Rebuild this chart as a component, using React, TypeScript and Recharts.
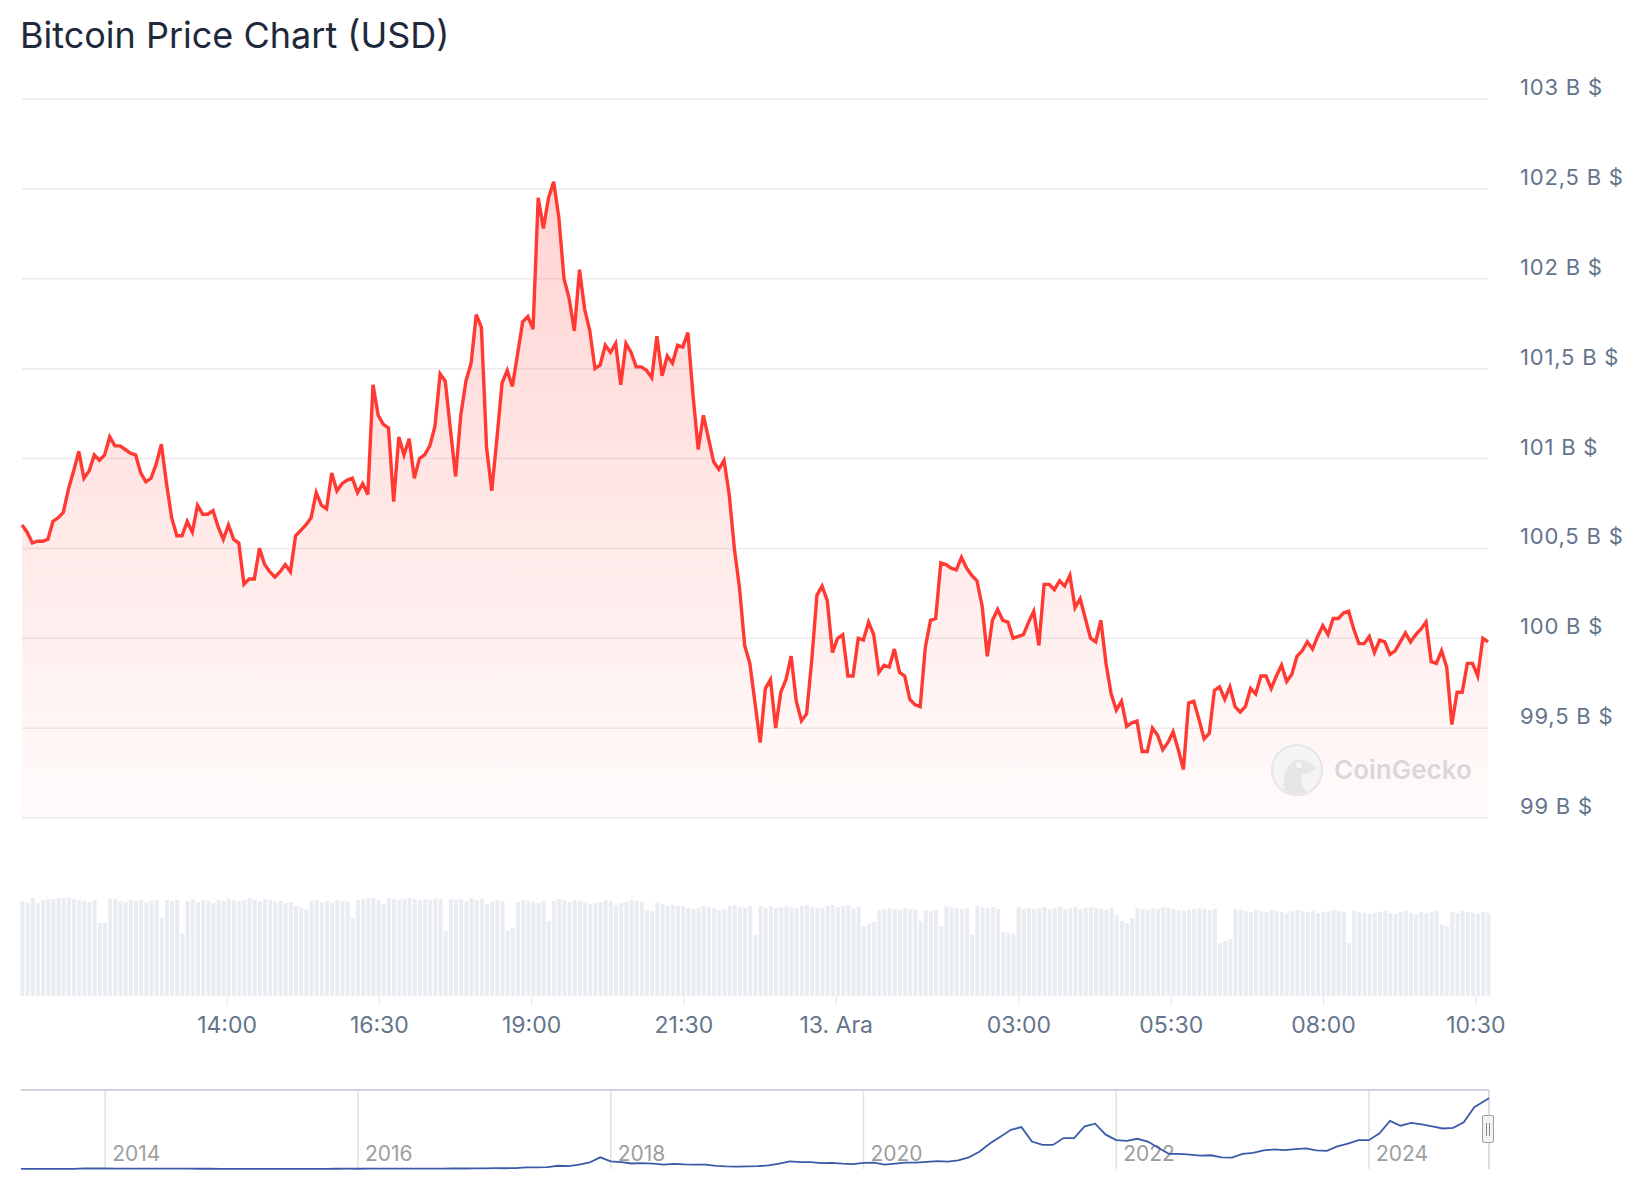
import React from 'react';
import {
  ComposedChart,
  Area,
  XAxis,
  YAxis,
  CartesianGrid,
  BarChart,
  Bar,
  LineChart,
  Line,
  ReferenceLine,
} from 'recharts';

const FONT = 'Inter, "Noto Sans", "DejaVu Sans", sans-serif';

// Time axis: minutes from 00:00 on 12 Dec; ~24 hours of data
const START_MIN = 638;
const SPAN_MIN = 1444;

// Bitcoin price, thousands of USD
const priceValues: number[] = [
  100.63, 100.59, 100.53, 100.54, 100.54, 100.55, 100.65, 100.67, 100.70, 100.83,
  100.93, 101.04, 100.89, 100.93, 101.02, 100.99, 101.02, 101.12, 101.07, 101.07,
  101.05, 101.03, 101.02, 100.92, 100.87, 100.89, 100.97, 101.08, 100.86, 100.67,
  100.57, 100.57, 100.65, 100.59, 100.74, 100.69, 100.69, 100.71, 100.62, 100.55,
  100.63, 100.55, 100.53, 100.30, 100.33, 100.33, 100.50, 100.41, 100.37, 100.34,
  100.37, 100.41, 100.37, 100.57, 100.60, 100.63, 100.67, 100.81, 100.74, 100.72,
  100.92, 100.82, 100.86, 100.88, 100.89, 100.81, 100.86, 100.80, 101.41, 101.24,
  101.19, 101.17, 100.76,
  101.12, 101.02, 101.11, 100.89, 101.00, 101.02, 101.07, 101.18, 101.47, 101.43,
  101.16, 100.90, 101.24, 101.43, 101.53, 101.80, 101.73, 101.06, 100.82, 101.11,
  101.42, 101.49, 101.40, 101.58, 101.76, 101.79, 101.72, 102.45, 102.28, 102.45,
  102.54, 102.34, 102.00, 101.89, 101.71, 102.05, 101.83, 101.71, 101.50, 101.52,
  101.63, 101.59, 101.64, 101.41, 101.64, 101.59, 101.51, 101.51, 101.49, 101.45,
  101.68, 101.46, 101.57, 101.53, 101.63, 101.62, 101.70, 101.35, 101.05, 101.24,
  101.11, 100.98, 100.94, 100.99, 100.80, 100.50, 100.28, 99.96, 99.86, 99.64,
  99.42, 99.72,
  99.77, 99.50, 99.70, 99.77, 99.90, 99.65, 99.54, 99.58, 99.88, 100.24,
  100.29, 100.21, 99.92, 100.00, 100.02, 99.79, 99.79, 100.00, 99.99, 100.09,
  100.02, 99.81, 99.85, 99.84, 99.94, 99.81, 99.79, 99.66, 99.63, 99.62,
  99.95, 100.10, 100.11, 100.42, 100.41, 100.39, 100.38, 100.45, 100.39, 100.35,
  100.32, 100.18, 99.90, 100.10, 100.16, 100.10, 100.09, 100.00, 100.01, 100.02,
  100.09, 100.15, 99.96, 100.30, 100.30, 100.27, 100.32, 100.29, 100.35, 100.17,
  100.22, 100.11, 100.00, 99.98, 100.10, 99.86, 99.69, 99.60, 99.65, 99.51,
  99.53, 99.54,
  99.37, 99.37, 99.50, 99.46, 99.38, 99.42, 99.48, 99.38, 99.27, 99.64,
  99.65, 99.55, 99.44, 99.47, 99.71, 99.73, 99.66, 99.73, 99.62, 99.59,
  99.62, 99.72, 99.69, 99.79, 99.79, 99.72, 99.79, 99.85, 99.76, 99.80,
  99.90, 99.93, 99.98, 99.94, 100.01, 100.07, 100.02, 100.11, 100.11, 100.14,
  100.15, 100.05, 99.97, 99.97, 100.01, 99.92, 99.99, 99.98, 99.91, 99.93,
  99.98, 100.03, 99.98, 100.02, 100.05, 100.09, 99.87, 99.86, 99.93, 99.84,
  99.52, 99.70, 99.70, 99.86, 99.86, 99.79, 100.00, 99.98,
];

// Trading volume (relative bar heights)
const volumeValues: number[] = [
  95, 93, 98, 93, 96, 97, 97, 98, 98, 98, 97, 96, 95, 94, 96,
  73, 73,
  97, 97, 95, 94, 96, 95, 96, 94, 95, 96,
  78,
  96, 95, 96,
  62,
  95, 97, 94, 96, 95, 93, 96, 95, 97, 96, 95, 96, 98, 96, 95, 97, 96, 94, 95, 93, 94, 90, 88,
  87,
  95, 96, 94, 95, 93, 96, 95, 94,
  78,
  96, 97, 98, 98, 96,
  92,
  98, 97, 96, 97, 98, 97, 96, 97, 96, 98, 97,
  65,
  97, 96, 97, 95, 98, 96, 97, 92, 94, 96, 95,
  65, 68,
  94, 96, 95, 94, 93, 95,
  75,
  95, 97, 96, 94, 96, 95, 94, 92, 93, 94, 96, 95, 91, 93, 94, 96, 95, 94,
  86, 85,
  94, 92, 90, 91, 90, 90, 88, 87, 88, 90, 89, 88, 86, 87, 90, 91, 89, 88, 90,
  61,
  90, 88, 90, 88, 89, 90, 89, 88, 90, 91, 89, 88,
  88, 90, 91, 89, 90, 91, 88, 89,
  70, 72, 74,
  86, 87, 88, 87, 86, 88, 87, 86,
  75,
  86, 85, 86,
  70,
  90, 89, 88, 87, 88,
  61,
  90, 89, 88, 89, 87,
  64, 63, 62,
  89, 87, 88, 87, 88, 89, 87, 88, 89, 87, 88, 89, 87, 88, 89, 88, 87, 86, 88,
  81, 75, 73, 78,
  88, 87, 86, 88, 87, 89, 88, 87, 86, 85, 86, 87, 88, 87, 86, 87,
  53, 55, 57,
  87, 86, 85, 84, 86, 85, 84, 86, 85, 84, 83, 85, 86, 85, 84, 85, 83, 84, 85, 86, 85, 84,
  53,
  85, 84, 83, 82, 83, 84, 85, 83, 82, 84, 85, 83, 82, 84, 83, 84, 85,
  71, 70,
  84, 83, 85, 84, 83, 82, 84, 83,
];

const timeTicks = [840, 990, 1140, 1290, 1440, 1620, 1770, 1920, 2070];
const timeTickLabels = ['14:00', '16:30', '19:00', '21:30', '13. Ara', '03:00', '05:30', '08:00', '10:30'];

const priceTicks = [99, 99.5, 100, 100.5, 101, 101.5, 102, 102.5, 103];
const priceTickLabels = ['99 B $', '99,5 B $', '100 B $', '100,5 B $', '101 B $', '101,5 B $', '102 B $', '102,5 B $', '103 B $'];

// Long-range navigator: BTC price history in thousands of USD
const navDates: string[] = [
  '2013-05', '2013-07', '2013-09', '2013-10', '2013-11', '2013-12',
  '2014-01', '2014-02', '2014-03', '2014-04', '2014-05', '2014-06', '2014-07', '2014-08', '2014-09', '2014-10', '2014-11', '2014-12',
  '2015-01', '2015-02', '2015-03', '2015-04', '2015-05', '2015-06', '2015-07', '2015-08', '2015-09', '2015-10', '2015-11', '2015-12',
  '2016-01', '2016-02', '2016-03', '2016-04', '2016-05', '2016-06', '2016-07', '2016-08', '2016-09', '2016-10', '2016-11', '2016-12',
  '2017-01', '2017-02', '2017-03', '2017-04', '2017-05', '2017-06', '2017-07', '2017-08', '2017-09', '2017-10', '2017-11', '2017-12',
  '2018-01', '2018-02', '2018-03', '2018-04', '2018-05', '2018-06', '2018-07', '2018-08', '2018-09', '2018-10', '2018-11', '2018-12',
  '2019-01', '2019-02', '2019-03', '2019-04', '2019-05', '2019-06', '2019-07', '2019-08', '2019-09', '2019-10', '2019-11', '2019-12',
  '2020-01', '2020-02', '2020-03', '2020-04', '2020-05', '2020-06', '2020-07', '2020-08', '2020-09', '2020-10', '2020-11', '2020-12',
  '2021-01', '2021-02', '2021-03', '2021-04', '2021-05', '2021-06', '2021-07', '2021-08', '2021-09', '2021-10', '2021-11', '2021-12',
  '2022-01', '2022-02', '2022-03', '2022-04', '2022-05', '2022-06', '2022-07', '2022-08', '2022-09', '2022-10', '2022-11', '2022-12',
  '2023-01', '2023-02', '2023-03', '2023-04', '2023-05', '2023-06', '2023-07', '2023-08', '2023-09', '2023-10', '2023-11', '2023-12',
  '2024-01', '2024-02', '2024-03', '2024-04', '2024-05', '2024-06', '2024-07', '2024-08', '2024-09', '2024-10', '2024-11', '2024-12',
];
const navValues: number[] = [
  0.12, 0.09, 0.13, 0.18, 0.8, 0.75,
  0.85, 0.6, 0.5, 0.45, 0.6, 0.6, 0.6, 0.5, 0.4, 0.35, 0.37, 0.32,
  0.22, 0.25, 0.25, 0.23, 0.23, 0.26, 0.28, 0.23, 0.24, 0.31, 0.38, 0.43,
  0.37, 0.44, 0.42, 0.45, 0.53, 0.67, 0.62, 0.57, 0.61, 0.7, 0.74, 0.96,
  0.97, 1.19, 1.08, 1.35, 2.3, 2.5, 2.87, 4.7, 4.3, 6.4, 9.5, 17,
  11, 10, 8, 8.5, 7.8, 6.5, 7.5, 6.8, 6.5, 6.4, 4.5, 3.7,
  3.5, 3.8, 4.1, 5.3, 7.8, 11, 10, 10, 8.5, 8.8, 7.8, 7.2,
  9, 9.3, 6.5, 7.8, 9.2, 9.3, 10.5, 11.6, 10.6, 12.5, 17, 25,
  37, 47, 57, 61, 40, 35, 35, 45, 45, 62, 66, 50,
  42, 41, 44, 40, 31, 22, 22, 21, 19.5, 20, 17, 16.7,
  22, 23.5, 27, 28.5, 27.5, 29, 30, 27, 26.5, 33, 37, 42,
  42, 52, 70, 63, 67, 65, 62, 59, 60, 68, 90, 103,
];

const NAV_START = 2013 + 4 / 12;
const NAV_END = 2024.95;
const navYearTicks = [2014, 2016, 2018, 2020, 2022, 2024];

const toYear = (s: string) => {
  const [y, m] = s.split('-').map(Number);
  return y + (m - 1) / 12;
};

const stepMin = SPAN_MIN / (priceValues.length - 1);
const priceData = priceValues.map((v, i) => ({ t: START_MIN + i * stepMin, price: v }));
const volumeData = volumeValues.map((v, i) => ({ t: START_MIN + i * stepMin, vol: v }));
const navData = navValues.map((v, i) => ({
  yr: i === navValues.length - 1 ? NAV_END : toYear(navDates[i]),
  v,
}));

const PriceTick = (props: any) => {
  const { y, payload } = props;
  const idx = priceTicks.indexOf(payload.value);
  return (
    <text
      x={1520}
      y={y - 12}
      fill="#64748b"
      fontSize={22}
      letterSpacing={0.8}
      fontFamily={FONT}
      dominantBaseline="central"
    >
      {priceTickLabels[idx]}
    </text>
  );
};

const TimeTick = (props: any) => {
  const { x, payload } = props;
  const idx = timeTicks.indexOf(payload.value);
  return (
    <text x={x} y={145} fill="#64748b" fontSize={23} fontFamily={FONT} textAnchor="middle" dominantBaseline="central">
      {timeTickLabels[idx]}
    </text>
  );
};

const YearLabel = (year: number) => (props: any) => {
  const vb = props.viewBox || {};
  return (
    <text
      x={(vb.x ?? 0) + 7}
      y={(vb.y ?? 0) + (vb.height ?? 0) - 16}
      fill="#9e9e9e"
      fontSize={21}
      fontFamily={FONT}
      dominantBaseline="central"
    >
      {String(year)}
    </text>
  );
};

export default function App() {
  return (
    <div style={{ position: 'absolute', left: 0, top: 0, width: 1644, height: 1200, background: '#ffffff', fontFamily: FONT }}>
      <svg width={700} height={70} style={{ position: 'absolute', left: 0, top: 0 }}>
        <text x={20} y={48} fontSize={36} fontFamily={FONT} fill="#1e293b">
          Bitcoin Price Chart (USD)
        </text>
      </svg>

      <div style={{ position: 'absolute', left: 0, top: 0 }}>
        <ComposedChart width={1644} height={830} data={priceData} margin={{ top: 99, right: 0, left: 22, bottom: 12 }}>
          <defs>
            <linearGradient id="priceFill" x1="0" y1="0" x2="0" y2="1">
              <stop offset="0%" stopColor="#ff3a33" stopOpacity={0.22} />
              <stop offset="100%" stopColor="#ff3a33" stopOpacity={0.02} />
            </linearGradient>
          </defs>
          <CartesianGrid vertical={false} stroke="#ebebeb" strokeWidth={1.5} />
          <XAxis dataKey="t" type="number" domain={[START_MIN, START_MIN + SPAN_MIN]} hide />
          <YAxis
            orientation="right"
            width={156}
            domain={[99, 103]}
            ticks={priceTicks}
            axisLine={false}
            tickLine={false}
            tick={<PriceTick />}
            allowDataOverflow
          />
          <Area
            type="linear"
            dataKey="price"
            stroke="#ff3a33"
            strokeWidth={3.4}
            fill="url(#priceFill)"
            fillOpacity={1}
            dot={false}
            activeDot={false}
            isAnimationActive={false}
          />
        </ComposedChart>
      </div>

      <div style={{ position: 'absolute', left: 1262, top: 740 }}>
        <svg width={230} height={60}>
          <circle cx={35} cy={30} r={25} fill="#f4f4f4" stroke="#e6e6e6" strokeWidth={2} />
          <path d="M22 50 C20 36 24 22 36 20 C44 19 50 24 54 29 C50 33 44 33 40 34 C38 40 40 46 44 52 C36 55 28 54 22 50 Z" fill="#e6e6e6" />
          <circle cx={37} cy={25} r={3} fill="#f7f7f7" />
          <text x={72} y={39} fontSize={26} fontWeight={600} fontFamily={FONT} fill="#d8d8d8">
            CoinGecko
          </text>
        </svg>
      </div>

      <div style={{ position: 'absolute', left: 0, top: 880 }}>
        <BarChart width={1644} height={160} data={volumeData} margin={{ top: 16, right: 156, left: 22, bottom: 0 }}>
          <XAxis
            dataKey="t"
            type="number"
            domain={[START_MIN, START_MIN + SPAN_MIN]}
            ticks={timeTicks}
            tick={<TimeTick />}
            tickSize={10}
            tickLine={{ stroke: '#e6e6e6' }}
            axisLine={false}
            height={44}
            interval={0}
          />
          <YAxis hide domain={[0, 100]} />
          <Bar dataKey="vol" fill="#e9edf2" barSize={4} isAnimationActive={false} />
        </BarChart>
      </div>

      <div style={{ position: 'absolute', left: 0, top: 1080 }}>
        <LineChart width={1644} height={100} data={navData} margin={{ top: 10, right: 155, left: 21, bottom: 11 }}>
          <XAxis dataKey="yr" type="number" domain={[NAV_START, NAV_END]} hide />
          <YAxis hide domain={[0, 115]} />
          {navYearTicks.map((yr) => (
            <ReferenceLine key={yr} x={yr} stroke="#e2e2e2" strokeWidth={1.5} label={YearLabel(yr)} />
          ))}
          <ReferenceLine y={115} stroke="#ccd3de" strokeWidth={2} />
          <ReferenceLine x={NAV_END} stroke="#ccd3de" strokeWidth={1.5} />
          <Line type="linear" dataKey="v" stroke="#3b5ba9" strokeWidth={1.8} dot={false} activeDot={false} isAnimationActive={false} />
        </LineChart>
      </div>

      <div
        style={{
          position: 'absolute',
          left: 1482,
          top: 1115,
          width: 12,
          height: 28,
          border: '1px solid #a0a0a0',
          borderRadius: 2,
          background: '#f2f2f2',
          boxSizing: 'border-box',
        }}
      >
        <div style={{ position: 'absolute', left: 3, top: 7, width: 1, height: 13, background: '#888' }} />
        <div style={{ position: 'absolute', left: 6, top: 7, width: 1, height: 13, background: '#888' }} />
      </div>
    </div>
  );
}
